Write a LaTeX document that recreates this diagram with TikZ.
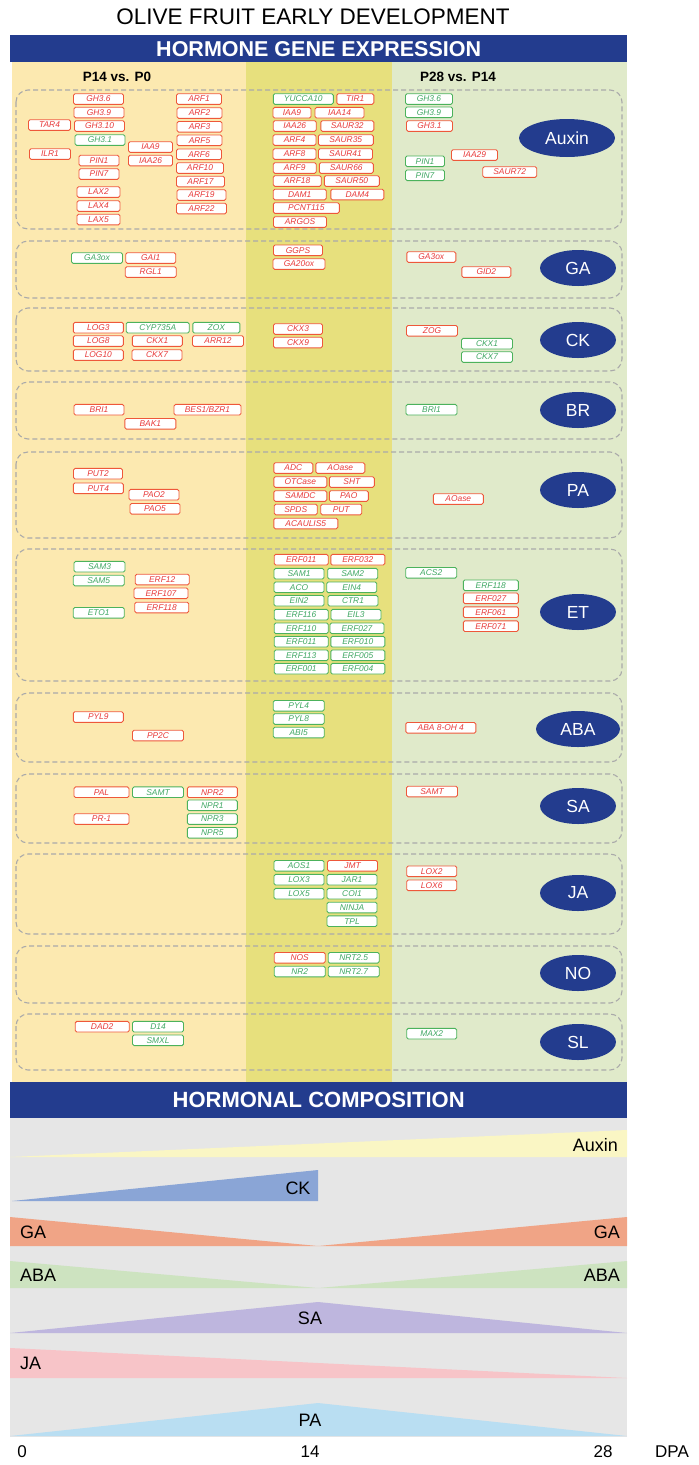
\documentclass[tikz,border=0pt]{standalone}
\usepackage{fontspec}
\setmainfont{Liberation Sans}
\usetikzlibrary{shapes.geometric}
\definecolor{hblue}{RGB}{35,60,142}
\definecolor{ylw}{RGB}{252,233,176}
\definecolor{olv}{RGB}{231,224,125}
\definecolor{lgr}{RGB}{224,234,202}
\definecolor{rbord}{RGB}{238,88,58}
\definecolor{rtext}{RGB}{232,58,58}
\definecolor{gbord}{RGB}{76,178,92}
\definecolor{gtext}{RGB}{64,168,100}
\definecolor{dgray}{RGB}{170,170,170}
\definecolor{cbg}{RGB}{230,230,230}
\definecolor{cauxin}{RGB}{250,246,196}
\definecolor{cck}{RGB}{138,165,214}
\definecolor{cga}{RGB}{240,164,134}
\definecolor{caba}{RGB}{205,227,192}
\definecolor{csa}{RGB}{190,182,222}
\definecolor{cja}{RGB}{247,196,200}
\definecolor{cpa}{RGB}{185,222,242}
\newcommand\rbx[5]{\node[rbox,minimum width=#4pt] (#1) at (#2,#3) {#5};}
\newcommand\gbx[5]{\node[gbox,minimum width=#4pt] (#1) at (#2,#3) {#5};}
\begin{document}
\begin{tikzpicture}[x=1pt,y=-1pt,
 gene/.style={draw, fill=white, rounded corners=1.5pt, line width=0.9pt, minimum height=10.6pt, inner sep=0pt, font=\fontsize{8.4}{9}\selectfont\itshape},
 rbox/.style={gene, draw=rbord, text=rtext},
 gbox/.style={gene, draw=gbord, text=gtext},
 grp/.style={draw=dgray, dash pattern=on 5pt off 3pt, line width=1.1pt, rounded corners=12pt},
 horm/.style={ellipse, fill=hblue, text=white, inner sep=0pt, minimum width=76pt, minimum height=36pt, font=\fontsize{17.5}{20}\selectfont},
 bar/.style={fill=hblue, text=white, font=\fontsize{21.5}{24}\selectfont\bfseries, minimum width=617pt, inner sep=0pt, anchor=north west},
 band/.style={font=\fontsize{18}{21}\selectfont, inner sep=0pt},
 axl/.style={font=\fontsize{17}{20}\selectfont, inner sep=0pt},
]
\useasboundingbox (0,0) rectangle (699,1465);
% backgrounds
\fill[ylw] (12,62) rectangle (246,1082);
\fill[olv] (246,62) rectangle (392,1082);
\fill[lgr] (392,62) rectangle (627,1082);
% title and bars
\node[font=\fontsize{22.5}{26}\selectfont, inner sep=0pt] (title) at (313,17) {OLIVE FRUIT EARLY DEVELOPMENT};
\node[bar, minimum height=27pt] (bar1) at (10,35) {HORMONE GENE EXPRESSION};
\node[font=\fontsize{13.5}{15}\selectfont\bfseries, inner sep=0pt] (h1) at (117,77) {P14 vs. P0};
\node[font=\fontsize{13.5}{15}\selectfont\bfseries, inner sep=0pt] (h2) at (458,77) {P28 vs. P14};
% group frames
\draw[grp] (16,90) rectangle (622,229);
\draw[grp] (16,241) rectangle (622,298);
\draw[grp] (16,308) rectangle (622,371);
\draw[grp] (16,382) rectangle (622,439);
\draw[grp] (16,452) rectangle (622,538);
\draw[grp] (16,549) rectangle (622,681);
\draw[grp] (16,693) rectangle (622,762);
\draw[grp] (16,774) rectangle (622,843);
\draw[grp] (16,854) rectangle (622,934);
\draw[grp] (16,946) rectangle (622,1003);
\draw[grp] (16,1014) rectangle (622,1070);
% hormone ellipses
\node[horm, minimum width=96pt, minimum height=38pt] (eAux) at (567,138) {Auxin};
\node[horm] (eGA) at (578,268) {GA};
\node[horm] (eCK) at (578,340) {CK};
\node[horm] (eBR) at (578,410) {BR};
\node[horm] (ePA) at (578,490) {PA};
\node[horm] (eET) at (578,612) {ET};
\node[horm, minimum width=84pt] (eABA) at (578,729) {ABA};
\node[horm] (eSA) at (578,806) {SA};
\node[horm] (eJA) at (578,893) {JA};
\node[horm] (eNO) at (578,973) {NO};
\node[horm] (eSL) at (578,1042) {SL};
% ---- Auxin
\rbx{a1}{98.5}{99}{50}{GH3.6}
\rbx{a2}{99}{112.5}{50}{GH3.9}
\rbx{a3}{99.5}{126}{50}{GH3.10}
\gbx{a4}{100}{140}{50}{GH3.1}
\rbx{a5}{49.5}{125}{42}{TAR4}
\rbx{a6}{50}{154}{41}{ILR1}
\rbx{a7}{99}{160.5}{40}{PIN1}
\rbx{a8}{99}{174}{40}{PIN7}
\rbx{a9}{98.5}{192}{43}{LAX2}
\rbx{a10}{98.5}{206}{43}{LAX4}
\rbx{a11}{98.5}{219.5}{43}{LAX5}
\rbx{a12}{150.5}{147}{44}{IAA9}
\rbx{a13}{150.5}{160.5}{44}{IAA26}
\rbx{a14}{199}{99}{45}{ARF1}
\rbx{a15}{199.5}{113}{45}{ARF2}
\rbx{a16}{199.5}{126.8}{45}{ARF3}
\rbx{a17}{199.5}{140.3}{45}{ARF5}
\rbx{a18}{199}{154.3}{45}{ARF6}
\rbx{a19}{200}{168}{47}{ARF10}
\rbx{a20}{200.5}{181.5}{48}{ARF17}
\rbx{a21}{201.5}{195}{49}{ARF19}
\rbx{a22}{201.5}{208.5}{50}{ARF22}
\gbx{a23}{303.3}{99}{60}{YUCCA10}
\rbx{a24}{355.3}{99}{37}{TIR1}
\rbx{a25}{292}{112.7}{38}{IAA9}
\rbx{a26}{339.5}{112.7}{49}{IAA14}
\rbx{a27}{294.7}{126}{43}{IAA26}
\rbx{a28}{347.3}{126}{53}{SAUR32}
\rbx{a29}{294.5}{140}{43}{ARF4}
\rbx{a30}{345.8}{140}{55}{SAUR35}
\rbx{a31}{294.5}{154}{43}{ARF8}
\rbx{a32}{345.5}{154}{54}{SAUR41}
\rbx{a33}{294.7}{168}{43}{ARF9}
\rbx{a34}{346.3}{168}{54}{SAUR66}
\rbx{a35}{297.2}{181}{48}{ARF18}
\rbx{a36}{351.8}{181}{55}{SAUR50}
\rbx{a37}{299.7}{194.5}{53}{DAM1}
\rbx{a38}{357.3}{194.5}{53}{DAM4}
\rbx{a39}{306.3}{208}{66}{PCNT115}
\rbx{a40}{300}{222}{53}{ARGOS}
\gbx{a41}{429}{99}{47}{GH3.6}
\gbx{a42}{429}{112.3}{47}{GH3.9}
\rbx{a43}{429.5}{126}{46}{GH3.1}
\gbx{a44}{425}{161.3}{39}{PIN1}
\gbx{a45}{425}{175.3}{39}{PIN7}
\rbx{a46}{474.5}{155}{46}{IAA29}
\rbx{a47}{509.7}{172}{54}{SAUR72}
% ---- GA
\gbx{g1}{97}{258}{51}{GA3ox}
\rbx{g2}{150.7}{258}{50}{GAI1}
\rbx{g3}{150.7}{272}{51}{RGL1}
\rbx{g4}{298}{250.3}{49}{GGPS}
\rbx{g5}{299}{264}{52}{GA20ox}
\rbx{g6}{431.3}{257}{49}{GA3ox}
\rbx{g7}{486.3}{272}{49}{GID2}
% ---- CK
\rbx{c1}{98.3}{327.7}{50}{LOG3}
\rbx{c2}{98.3}{341}{50}{LOG8}
\rbx{c3}{98.3}{355}{50}{LOG10}
\gbx{c4}{157.7}{327.7}{63}{CYP735A}
\gbx{c5}{216.3}{327.7}{47}{ZOX}
\rbx{c6}{157.3}{341}{50}{CKX1}
\rbx{c7}{157}{355}{50}{CKX7}
\rbx{c8}{218}{341}{51}{ARR12}
\rbx{c9}{298}{329}{49}{CKX3}
\rbx{c10}{298}{342.5}{49}{CKX9}
\rbx{c11}{432}{330.8}{51}{ZOG}
\gbx{c12}{487}{343.7}{51}{CKX1}
\gbx{c13}{487}{357}{51}{CKX7}
% ---- BR
\rbx{b1}{99}{409.7}{50}{BRI1}
\rbx{b2}{207.5}{409.7}{67}{BES1/BZR1}
\rbx{b3}{150.3}{423.8}{51}{BAK1}
\gbx{b4}{431.5}{409.7}{51}{BRI1}
% ---- PA
\rbx{p1}{98}{473.7}{49}{PUT2}
\rbx{p2}{98.3}{488.3}{50}{PUT4}
\rbx{p3}{154}{494.7}{50}{PAO2}
\rbx{p4}{155}{508.8}{50}{PAO5}
\rbx{p5}{293.3}{468}{39}{ADC}
\rbx{p6}{340.3}{468}{49}{AOase}
\rbx{p7}{300.3}{482}{53}{OTCase}
\rbx{p8}{351.8}{482}{45}{SHT}
\rbx{p9}{300.3}{496}{53}{SAMDC}
\rbx{p10}{348.8}{496}{39}{PAO}
\rbx{p11}{295.7}{509.5}{43}{SPDS}
\rbx{p12}{341.2}{509.5}{41}{PUT}
\rbx{p13}{305.8}{523.5}{64}{ACAULIS5}
\rbx{p14}{458.3}{499}{50}{AOase}
% ---- ET
\gbx{e1}{99.5}{566.7}{51}{SAM3}
\gbx{e2}{98.7}{580.5}{51}{SAM5}
\rbx{e3}{162.2}{579.5}{54}{ERF12}
\rbx{e4}{161}{593.3}{54}{ERF107}
\rbx{e5}{161.7}{607.5}{54}{ERF118}
\gbx{e6}{98.7}{612.8}{51}{ETO1}
\rbx{e7}{301.2}{559.7}{54}{ERF011}
\rbx{e8}{357.8}{559.7}{54}{ERF032}
\gbx{e9}{299}{573.7}{50}{SAM1}
\gbx{e10}{352.7}{573.7}{50}{SAM2}
\gbx{e11}{299}{587.3}{50}{ACO}
\gbx{e12}{351.7}{587.3}{50}{EIN4}
\gbx{e13}{299}{600.7}{50}{EIN2}
\gbx{e14}{353}{600.7}{50}{CTR1}
\gbx{e15}{301.2}{614.7}{54}{ERF116}
\gbx{e16}{356}{614.7}{50}{EIL3}
\gbx{e17}{301.2}{628.3}{54}{ERF110}
\gbx{e18}{357}{628.3}{54}{ERF027}
\gbx{e19}{301.2}{641.7}{54}{ERF011}
\gbx{e20}{357.8}{641.7}{54}{ERF010}
\gbx{e21}{301.2}{655.3}{54}{ERF113}
\gbx{e22}{357.8}{655.3}{54}{ERF005}
\gbx{e23}{301.2}{668.7}{54}{ERF001}
\gbx{e24}{357.8}{668.7}{54}{ERF004}
\gbx{e25}{431.2}{572.8}{51}{ACS2}
\gbx{e26}{490.8}{585.3}{55}{ERF118}
\rbx{e27}{490.8}{598.3}{55}{ERF027}
\rbx{e28}{490.8}{612.2}{55}{ERF061}
\rbx{e29}{490.8}{626.2}{55}{ERF071}
% ---- ABA
\rbx{ab1}{98.3}{717}{50}{PYL9}
\rbx{ab2}{158}{735.5}{51}{PP2C}
\gbx{ab3}{298.7}{705.8}{51}{PYL4}
\gbx{ab4}{298.7}{719}{51}{PYL8}
\gbx{ab5}{298.7}{732.5}{51}{ABI5}
\rbx{ab6}{440.8}{727.8}{70}{ABA 8-OH 4}
% ---- SA
\rbx{s1}{101.5}{792.2}{55}{PAL}
\gbx{s2}{158}{792.2}{51}{SAMT}
\rbx{s3}{212.3}{792.2}{50}{NPR2}
\gbx{s4}{212.3}{805.3}{50}{NPR1}
\gbx{s5}{212.3}{819}{50}{NPR3}
\gbx{s6}{212.3}{832.8}{50}{NPR5}
\rbx{s7}{101.5}{819}{55}{PR-1}
\rbx{s8}{432}{791.5}{51}{SAMT}
% ---- JA
\gbx{j1}{299}{865.8}{50}{AOS1}
\rbx{j2}{352.5}{865.8}{50}{JMT}
\gbx{j3}{299}{879.7}{50}{LOX3}
\gbx{j4}{352}{879.7}{50}{JAR1}
\gbx{j5}{299}{893.7}{50}{LOX5}
\gbx{j6}{352}{893.7}{50}{COI1}
\gbx{j7}{352}{907.5}{50}{NINJA}
\gbx{j8}{352}{921.2}{50}{TPL}
\rbx{j9}{431.7}{871.3}{50}{LOX2}
\rbx{j10}{431.7}{885.3}{50}{LOX6}
% ---- NO
\rbx{o1}{299.7}{957.8}{51}{NOS}
\gbx{o2}{353.7}{957.8}{51}{NRT2.5}
\gbx{o3}{299.7}{971.5}{51}{NR2}
\gbx{o4}{353.7}{971.5}{51}{NRT2.7}
% ---- SL
\rbx{l1}{102.2}{1026.7}{54}{DAD2}
\gbx{l2}{158}{1026.7}{51}{D14}
\gbx{l3}{158}{1040.3}{51}{SMXL}
\gbx{l4}{431.7}{1033.7}{50}{MAX2}
% ===== hormonal composition
\node[bar, minimum height=36pt, font=\fontsize{22}{24}\selectfont\bfseries] (bar2) at (10,1082) {HORMONAL COMPOSITION};
\fill[cbg] (10,1118) rectangle (627,1437);
\fill[cauxin] (10,1157) -- (627,1130) -- (627,1157) -- cycle;
\fill[cck] (12,1201) -- (318,1170) -- (318,1201) -- cycle;
\fill[cga] (10,1217) -- (318,1246) -- (627,1217) -- (627,1246) -- (10,1246) -- cycle;
\fill[caba] (10,1261) -- (318,1288) -- (627,1261) -- (627,1288) -- (10,1288) -- cycle;
\fill[csa] (10,1333) -- (318,1302) -- (627,1333) -- cycle;
\fill[cja] (10,1348) -- (627,1378) -- (10,1378) -- cycle;
\fill[cpa] (10,1436) -- (318,1403) -- (627,1436) -- cycle;
\node[band, anchor=east] (lAux) at (618,1145) {Auxin};
\node[band] (lCK) at (298,1188) {CK};
\node[band, anchor=west] (lGA1) at (20,1232) {GA};
\node[band, anchor=east] (lGA2) at (620,1232) {GA};
\node[band, anchor=west] (lABA1) at (20,1275) {ABA};
\node[band, anchor=east] (lABA2) at (620,1275) {ABA};
\node[band] (lSA) at (310,1318) {SA};
\node[band, anchor=west] (lJA) at (20,1363) {JA};
\node[band] (lPA) at (310,1420) {PA};
\node[axl] (t0) at (22,1452) {0};
\node[axl] (t14) at (310,1452) {14};
\node[axl] (t28) at (603,1452) {28};
\node[axl] (tDPA) at (672,1452) {DPA};
\end{tikzpicture}
\end{document}
